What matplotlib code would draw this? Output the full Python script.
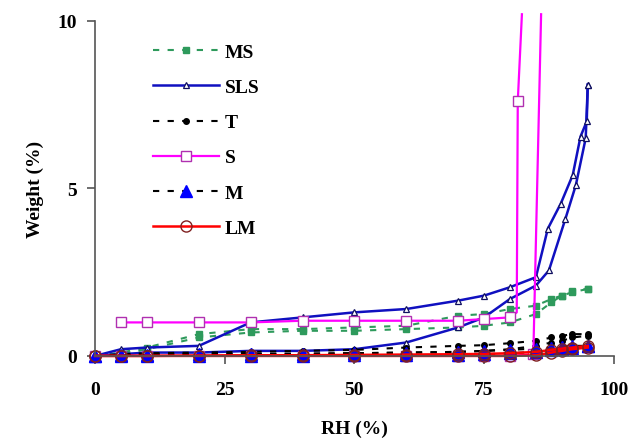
"""Moisture sorption / desorption isotherms of the samples (weight gain vs RH)"""

import matplotlib
matplotlib.use("Agg")
import matplotlib.pyplot as plt

plt.rcParams["font.family"] = ["Liberation Serif", "DejaVu Serif"]
plt.rcParams["font.weight"] = "bold"

# Relative humidity steps used by most samples
RH = [0, 5, 10, 20, 30, 40, 50, 60, 70, 75, 80, 85, 88, 90, 92, 95]

# MS
MS_ADS = [0, 0.05, 0.2, 0.55, 0.7, 0.75, 0.75, 0.8, 0.85, 0.9, 1.0, 1.25, 1.6, 1.8, 1.9, 2.0]
MS_DES = [0, 0.1, 0.25, 0.65, 0.8, 0.8, 0.85, 0.9, 1.2, 1.25, 1.4, 1.5, 1.7, 1.8, 1.95, 2.0]

# SLS
SLS_RH_ADS = [0, 5, 10, 20, 30, 40, 50, 60, 70, 75, 80, 85, 87.5, 90.7, 92.7, 94.6, 95]
SLS_ADS = [0, 0.05, 0.1, 0.1, 0.15, 0.15, 0.2, 0.4, 0.85, 1.15, 1.7, 2.1, 2.55, 4.1, 5.1, 6.5, 8.1]
SLS_RH_DES = [0, 5, 10, 20, 30, 40, 50, 60, 70, 75, 80, 85, 87.3, 89.8, 92.1, 93.6, 94.8, 95]
SLS_DES = [0, 0.2, 0.25, 0.3, 1.0, 1.15, 1.3, 1.4, 1.65, 1.8, 2.05, 2.35, 3.8, 4.55, 5.4, 6.55, 7.0, 8.1]

# T
T_ADS = [0, 0.02, 0.03, 0.05, 0.05, 0.06, 0.08, 0.1, 0.12, 0.15, 0.2, 0.3, 0.4, 0.45, 0.55, 0.6]
T_DES = [0, 0.05, 0.08, 0.1, 0.12, 0.15, 0.18, 0.25, 0.3, 0.32, 0.38, 0.45, 0.55, 0.6, 0.65, 0.65]

# S (deliquescence above ~84 % RH)
S_RH_ADS = [0, 5, 10, 20, 30, 40, 50, 60, 70, 75, 80, 84.5, 86]
S_ADS = [0, 0, 0, 0, 0, 0, 0, 0, 0, 0, 0, 0.05, 10.2]
S_RH_DES = [5, 10, 20, 30, 40, 50, 60, 70, 75, 80, 81.3, 81.5, 82.3]
S_DES = [1.0, 1.0, 1.0, 1.0, 1.05, 1.05, 1.05, 1.05, 1.1, 1.15, 1.3, 7.6, 10.2]

# M
M_ADS = [0, 0, 0, 0, 0, 0.01, 0.02, 0.03, 0.04, 0.05, 0.08, 0.12, 0.18, 0.22, 0.25, 0.3]
M_DES = [0, 0.02, 0.04, 0.05, 0.06, 0.07, 0.08, 0.1, 0.12, 0.15, 0.18, 0.22, 0.25, 0.28, 0.3, 0.3]

# LM
LM_ADS = [0, 0, 0, 0, 0, 0, 0, 0, 0, 0, 0, 0.02, 0.1, 0.15, 0.2, 0.25]
LM_DES = [0, 0, 0, 0.01, 0.02, 0.02, 0.03, 0.04, 0.05, 0.06, 0.08, 0.12, 0.18, 0.22, 0.25, 0.3]

fig = plt.figure(figsize=(6.34, 4.39), dpi=100)
ax = fig.add_axes([0.15, 0.187, 0.818, 0.763])

# Styles
MS_STYLE = dict(color="#2e9a5c", ls=(0, (3, 4)), lw=1.5, marker="s", ms=5, mfc="#2e9a5c", mec="#2e9a5c")
SLS_STYLE = dict(color="#1010c0", ls="-", lw=1.8, marker="^", ms=5, mfc="white", mec="#101060", mew=0.9)
T_STYLE = dict(color="black", ls=(0, (3, 4)), lw=1.5, marker="o", ms=4, mfc="black", mec="black")
S_STYLE = dict(color="#ff00ff", ls="-", lw=1.6, marker="s", ms=7, mfc="white", mec="#b030b0", mew=1.0)
M_STYLE = dict(color="black", ls=(0, (3, 4)), lw=1.5, marker="^", ms=8, mfc="#0000ff", mec="#0000ff")
LM_STYLE = dict(color="#ff0000", ls="-", lw=1.8, marker="o", ms=8, mfc="none", mec="#802020", mew=1.0)

ax.plot(RH, MS_ADS, label="MS", clip_on=False, **MS_STYLE)
ax.plot(RH, MS_DES, clip_on=False, **MS_STYLE)
ax.plot(SLS_RH_ADS, SLS_ADS, label="SLS", clip_on=False, **SLS_STYLE)
ax.plot(SLS_RH_DES, SLS_DES, clip_on=False, **SLS_STYLE)
ax.plot(RH, T_ADS, label="T", clip_on=False, **T_STYLE)
ax.plot(RH, T_DES, clip_on=False, **T_STYLE)
ax.plot(S_RH_ADS, S_ADS, label="S", clip_on=False, markevery=list(range(12)), **S_STYLE)
ax.plot(S_RH_DES, S_DES, clip_on=False, markevery=[0, 1, 2, 3, 4, 5, 6, 7, 8, 9, 11], **S_STYLE)
ax.plot(RH, M_ADS, label="M", clip_on=False, **M_STYLE)
ax.plot(RH, M_DES, clip_on=False, **M_STYLE)
ax.plot(RH, LM_ADS, label="LM", clip_on=False, **LM_STYLE)
ax.plot(RH, LM_DES, clip_on=False, **LM_STYLE)

ax.set_xlim(0, 100)
ax.set_ylim(0, 10)
ax.set_xticks([0, 25, 50, 75, 100])
ax.set_yticks([0, 5, 10])
ax.spines["top"].set_visible(False)
ax.spines["right"].set_visible(False)
for s in ("left", "bottom"):
    ax.spines[s].set_color("#555555")
    ax.spines[s].set_linewidth(1.2)
ax.tick_params(axis="x", direction="out", length=6, width=1.2, color="#555555", pad=12, labelsize=14)
ax.tick_params(axis="y", direction="out", length=6, width=1.2, color="#555555", pad=7, labelsize=14)

ax.set_xlabel("RH (%)", fontsize=14, fontweight="bold", labelpad=16)
ax.set_ylabel("Weight (%)", fontsize=14, fontweight="bold", labelpad=10)

ax.legend(loc="upper left", bbox_to_anchor=(0.078, 0.985), frameon=False,
          handlelength=3.4, labelspacing=0.9, handletextpad=0.3, prop={"weight": "bold", "size": 14})

plt.savefig("out.png", dpi=100)
